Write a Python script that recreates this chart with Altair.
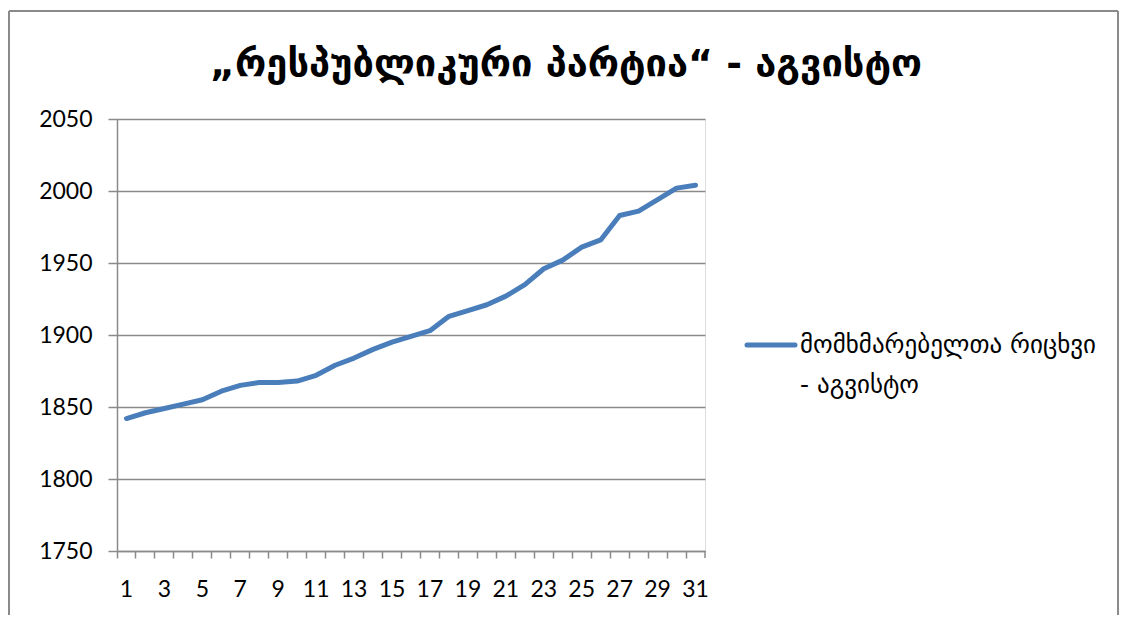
import altair as alt
import pandas as pd

days = list(range(1, 32))
users = [1842, 1846, 1849, 1852, 1855, 1861, 1865, 1867, 1867, 1868,
         1872, 1879, 1884, 1890, 1895, 1899, 1903, 1913, 1917, 1921,
         1927, 1935, 1946, 1952, 1961, 1966, 1983, 1986, 1994, 2002, 2004]
y_ticks = [1750, 1800, 1850, 1900, 1950, 2000, 2050]
title_text = "„რესპუბლიკური პარტია“ - აგვისტო"
legend_lines = ["მომხმარებელთა რიცხვი", "- აგვისტო"]

df = pd.DataFrame({"day": days, "users": users})

W, H = 588, 432
PAD = {"left": 109, "top": 111, "right": 414, "bottom": 64}
BLUE = "#4a7ebb"
GRAY = "#8a8a8a"
NUM_FONT = "Lato"
GEO_FONT = "DejaVu Sans"

base = alt.Chart(df)

line = base.mark_line(color=BLUE, strokeWidth=5, strokeCap="round", strokeJoin="round").encode(
    x=alt.X("day:O",
            scale=alt.Scale(type="band", paddingInner=0, paddingOuter=0),
            axis=alt.Axis(title=None, labelAngle=0, bandPosition=0, tickSize=7,
                          labelPadding=20, labelFontSize=23, labelFont=NUM_FONT,
                          labelColor="black", domainColor=GRAY, tickColor=GRAY,
                          domainWidth=1.5, tickWidth=1.5, grid=False,
                          labelExpr="datum.value % 2 == 1 ? datum.label : ''")),
    y=alt.Y("users:Q",
            scale=alt.Scale(domain=[1750, 2050], nice=False, zero=False),
            axis=alt.Axis(title=None, values=y_ticks, format="d", tickSize=9, labelPadding=16,
                          labelFontSize=23, labelFont=NUM_FONT, labelColor="black",
                          domainColor=GRAY, tickColor=GRAY, gridColor=GRAY,
                          domainWidth=1.5, tickWidth=1.5, gridWidth=1.5, grid=True)),
)

one = alt.Data(values=[{"k": 1}])

end_tick = alt.Chart(one).mark_rule(color=GRAY, strokeWidth=1.5).encode(
    x=alt.value(W), y=alt.value(H), y2=alt.value(H + 7))

left_rel = -PAD["left"] + 1
top_rel = -PAD["top"] + 3
right_rel = W + PAD["right"] - 1
bottom_rel = H + PAD["bottom"]
frame_top = alt.Chart(one).mark_rule(color=GRAY, strokeWidth=2).encode(
    x=alt.value(left_rel), x2=alt.value(right_rel), y=alt.value(top_rel))
frame_left = alt.Chart(one).mark_rule(color=GRAY, strokeWidth=2).encode(
    x=alt.value(left_rel), y=alt.value(top_rel), y2=alt.value(bottom_rel))
frame_right = alt.Chart(one).mark_rule(color=GRAY, strokeWidth=2).encode(
    x=alt.value(right_rel), y=alt.value(top_rel), y2=alt.value(bottom_rel))

title = alt.Chart(one).mark_text(
    text=title_text, align="center", baseline="middle", font=GEO_FONT,
    fontSize=38, fontWeight="bold", color="black").encode(
    x=alt.value(449), y=alt.value(-54))

leg_sym = alt.Chart(one).mark_rule(color=BLUE, strokeWidth=5, strokeCap="round").encode(
    x=alt.value(630), x2=alt.value(678), y=alt.value(226))

leg_txt = alt.Chart(one).mark_text(
    text=legend_lines, align="left", baseline="middle", font=GEO_FONT,
    fontSize=25, lineHeight=40, color="black").encode(
    x=alt.value(683), y=alt.value(226))

chart = alt.layer(frame_top, frame_left, frame_right, title, line, end_tick,
                  leg_sym, leg_txt).properties(
    width=W, height=H,
    autosize=alt.AutoSizeParams(type="none"),
    padding=PAD,
).configure_view(stroke=None).configure(background="white")

chart.save("out.html", embed_options={"renderer": "svg", "actions": False})
